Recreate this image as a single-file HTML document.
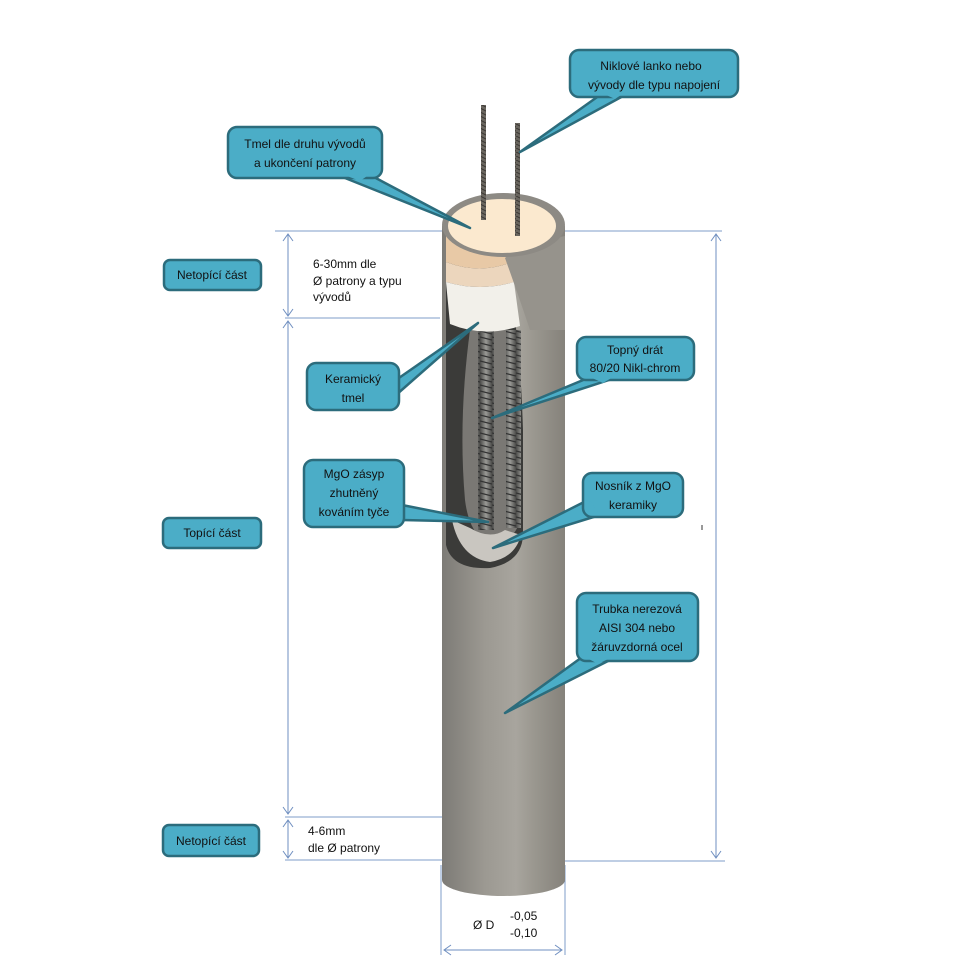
<!DOCTYPE html>
<html><head><meta charset="utf-8"><style>
html,body{margin:0;padding:0;background:#fff;}
svg{display:block;}
text{font-family:"Liberation Sans",sans-serif;font-size:12px;fill:#111;}
</style></head><body>
<svg width="980" height="980" viewBox="0 0 980 980" xmlns="http://www.w3.org/2000/svg">
<defs>
<linearGradient id="cyl" x1="0" x2="1" y1="0" y2="0">
<stop offset="0" stop-color="#7d7b76"/><stop offset="0.35" stop-color="#9c9992"/><stop offset="0.6" stop-color="#a8a59e"/><stop offset="0.75" stop-color="#9a978f"/><stop offset="1" stop-color="#85827b"/>
</linearGradient>
<linearGradient id="coil" x1="0" x2="1">
<stop offset="0" stop-color="#4a4a48"/><stop offset="0.5" stop-color="#9a9a96"/><stop offset="1" stop-color="#4a4a48"/>
</linearGradient>
<pattern id="turns" width="12" height="6" patternUnits="userSpaceOnUse">
<rect width="12" height="6" fill="url(#coil)"/><line x1="0" y1="1" x2="12" y2="4" stroke="#333" stroke-width="1.3"/>
</pattern>
<pattern id="wire" width="6" height="4" patternUnits="userSpaceOnUse">
<rect width="6" height="4" fill="#6a665f"/><line x1="0" y1="0" x2="6" y2="3" stroke="#3a3733" stroke-width="1"/>
</pattern>
</defs>

<!-- dimension lines -->
<g stroke="#7f9cc8" stroke-width="1" fill="none">
<line x1="275" y1="231" x2="442" y2="231"/>
<line x1="285" y1="318" x2="440" y2="318"/>
<line x1="285" y1="817" x2="442" y2="817"/>
<line x1="285" y1="860" x2="442" y2="860"/>
<line x1="565" y1="231" x2="722" y2="231"/>
<line x1="565" y1="861" x2="725" y2="861"/>
<line x1="441" y1="865" x2="441" y2="955"/>
<line x1="565" y1="865" x2="565" y2="955"/>
</g>
<g stroke="#6f8fc0" stroke-width="1" fill="none">
<path d="M288,234 V316 M283,241 L288,234 L293,241 M283,309 L288,316 L293,309"/>
<path d="M288,321 V814 M283,328 L288,321 L293,328 M283,807 L288,814 L293,807"/>
<path d="M288,820 V858 M283,827 L288,820 L293,827 M283,851 L288,858 L293,851"/>
<path d="M716,234 V858 M711,241 L716,234 L721,241 M711,851 L716,858 L721,851"/>
<path d="M444,950 H562 M451,945 L444,950 L451,955 M555,945 L562,950 L555,955"/>
</g>
<line x1="702" y1="525" x2="702" y2="530" stroke="#333"/>

<!-- cylinder body -->
<path d="M442,226 L442,880 A61.5,16 0 0 0 565,880 L565,226 Z" fill="url(#cyl)"/>
<!-- cutaway interior -->
<path d="M446,258 L446,545 Q452,570 490,568 Q522,562 523,535 L523,430 Q520,330 505,258 Z" fill="#3b3b39"/>
<path d="M470,330 Q458,420 465,500 Q470,540 495,545 Q515,540 520,520 L520,330 Z" fill="#7a7874"/>
<path d="M452,520 Q460,558 490,562 Q515,558 521,535 L505,530 Q490,540 470,528 Z" fill="#c9c6c0"/>
<!-- coils -->
<rect x="478" y="330" width="16" height="200" fill="url(#turns)"/>
<rect x="506" y="330" width="15" height="198" fill="url(#turns)"/>
<!-- cement bands -->
<path d="M446,236 L446,262 Q480,275 512,262 L512,236 Z" fill="#e8c9a6"/>
<path d="M446,262 L446,282 Q480,292 514,282 L512,262 Q480,275 446,262 Z" fill="#ecd6bd"/>
<path d="M446,282 L450,324 Q484,338 520,326 L514,282 Q480,292 446,282 Z" fill="#f2f0ea"/>
<!-- flap -->
<path d="M505,258 Q520,245 555,238 L565,236 L565,330 L530,330 Q520,300 505,258 Z" fill="#96938c"/>
<!-- top rim -->
<ellipse cx="503.5" cy="225" rx="61.5" ry="32" fill="#8d8a84"/>
<ellipse cx="502" cy="226" rx="54" ry="27" fill="#fbe9cf"/>
<!-- wires -->
<rect x="481" y="105" width="5" height="115" fill="url(#wire)"/>
<rect x="515" y="123" width="5" height="113" fill="url(#wire)"/>

<!-- callouts -->
<g fill="#4badc7" stroke="#2c6c7c" stroke-width="2.5" stroke-linejoin="round">
<path d="M600,95 L520,152 L625,95"/>
<rect x="570" y="50" width="168" height="47" rx="9"/>
<path d="M340,176 L470,228 L372,176"/>
<rect x="228" y="127" width="154" height="51" rx="9"/>
<path d="M396,380 L478,323 L396,395"/>
<rect x="307" y="363" width="92" height="47" rx="9"/>
<path d="M588,378 L492,418 L615,378"/>
<rect x="577" y="337" width="117" height="43" rx="9"/>
<path d="M402,505 L488,522 L402,520"/>
<rect x="304" y="460" width="100" height="67" rx="9"/>
<path d="M588,500 L493,548 L600,515"/>
<rect x="583" y="473" width="100" height="44" rx="9"/>
<path d="M585,655 L505,713 L612,659"/>
<rect x="577" y="593" width="121" height="68" rx="9"/>
<rect x="164" y="260" width="97" height="30" rx="6"/>
<rect x="163" y="518" width="98" height="30" rx="6"/>
<rect x="163" y="825" width="96" height="31" rx="6"/>
</g>
<g fill="#4badc7">
<path d="M602,93 L624,93 L615,99 Z"/>
<path d="M342,174 L370,174 L360,181 Z"/>
<path d="M397,382 L397,393 L392,388 Z"/>
<path d="M590,377 L613,377 L603,383 Z"/>
<path d="M402,507 L402,518 L398,512 Z"/>
<path d="M590,501 L598,512 L585,510 Z"/>
<path d="M587,658 L610,658 L598,664 Z"/>
</g>

<g text-anchor="middle">
<text x="651" y="70">Niklové lanko nebo</text>
<text x="654" y="89">vývody dle typu napojení</text>
<text x="305" y="148">Tmel dle druhu vývodů</text>
<text x="305" y="167">a ukončení patrony</text>
<text x="353" y="383">Keramický</text>
<text x="353" y="402">tmel</text>
<text x="635" y="354">Topný drát</text>
<text x="635" y="372">80/20 Nikl-chrom</text>
<text x="354" y="478">MgO zásyp</text>
<text x="354" y="497">zhutněný</text>
<text x="354" y="516">kováním tyče</text>
<text x="633" y="490">Nosník z MgO</text>
<text x="633" y="509">keramiky</text>
<text x="637" y="613">Trubka nerezová</text>
<text x="637" y="632">AISI 304 nebo</text>
<text x="637" y="651">žáruvzdorná ocel</text>
<text x="212" y="279">Netopící část</text>
<text x="212" y="537">Topící část</text>
<text x="211" y="845">Netopící část</text>
</g>
<text x="313" y="268">6-30mm dle</text>
<text x="313" y="285">Ø patrony a typu</text>
<text x="313" y="301">vývodů</text>
<text x="308" y="835">4-6mm</text>
<text x="308" y="852">dle Ø  patrony</text>
<text x="473" y="929">Ø D</text>
<text x="510" y="920">-0,05</text>
<text x="510" y="937">-0,10</text>
</svg>
</body></html>
